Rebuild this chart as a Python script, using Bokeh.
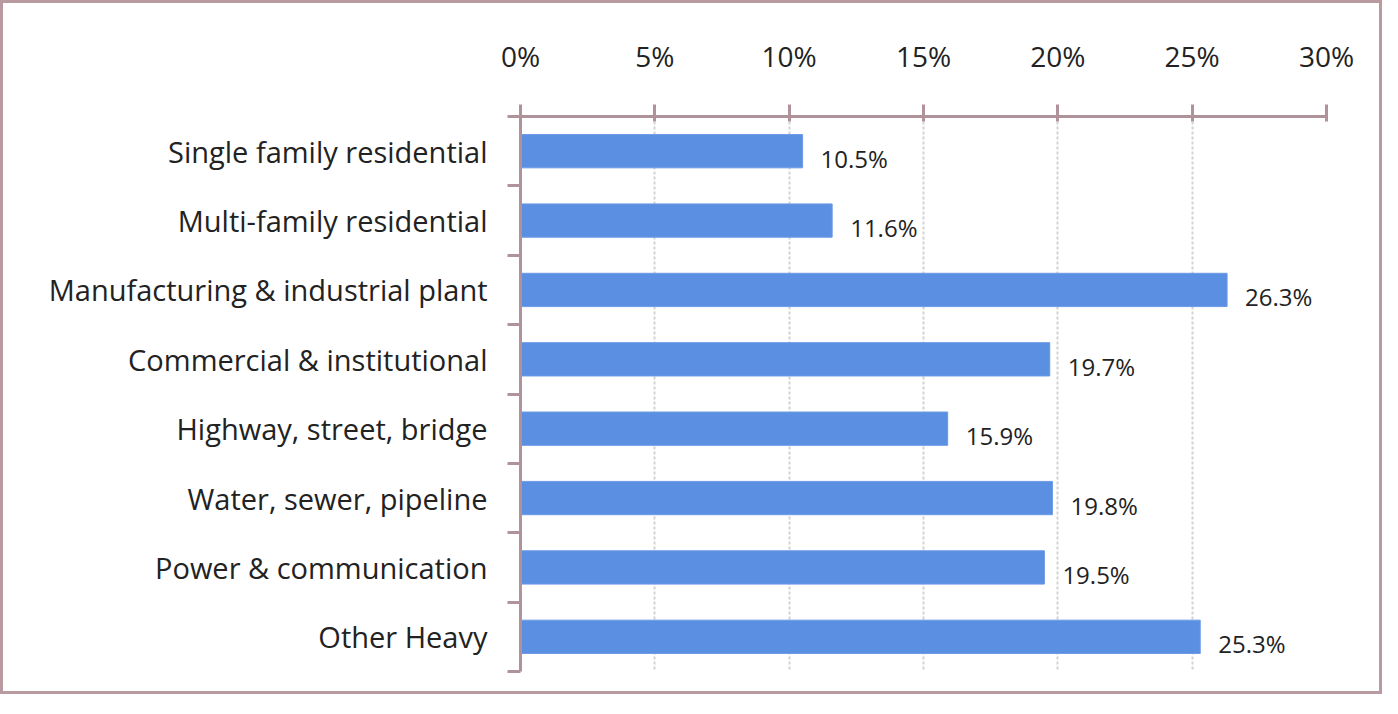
from bokeh.plotting import figure
from bokeh.models import Range1d, FixedTicker, ColumnDataSource
from bokeh.core.properties import value
from bokeh.embed import file_html
from bokeh.resources import INLINE

categories = ["Single family residential", "Multi-family residential",
              "Manufacturing & industrial plant", "Commercial & institutional",
              "Highway, street, bridge", "Water, sewer, pipeline",
              "Power & communication", "Other Heavy"]
values = [10.5, 11.6, 26.3, 19.7, 15.9, 19.8, 19.5, 25.3]
x_ticks = [0, 5, 10, 15, 20, 25, 30]
x_tick_labels = ["0%", "5%", "10%", "15%", "20%", "25%", "30%"]

FONT = "Open Sans"
AXIS_COLOR = "#b0939a"

idx = list(range(len(categories)))
src = ColumnDataSource(dict(y=idx, v=values, lab=[f"{v}%" for v in values]))

p = figure(width=1382, height=694, output_backend="svg", toolbar_location=None,
           x_range=Range1d(0, 30), y_range=Range1d(len(categories) - 0.5, -0.5),
           x_axis_location="above",
           min_border_left=517, min_border_right=59, min_border_top=113, min_border_bottom=26)
p.styles = {"border": "3px solid #b89aa0", "box-sizing": "border-box"}
p.outline_line_color = None

p.hbar(y="y", left=0, right="v", height=0.48, source=src,
       fill_color="#5b8fe2", line_color="#6b9ae6", line_width=1)
p.text(x="v", y="y", text="lab", source=src, x_offset=18, y_offset=7,
       text_baseline="middle", text_align="left",
       text_font=value(FONT), text_font_size="24px", text_color="#222222")

xa = p.xaxis[0]
xa.ticker = FixedTicker(ticks=x_ticks)
xa.major_label_overrides = {t: l for t, l in zip(x_ticks, x_tick_labels)}
xa.axis_line_color = AXIS_COLOR
xa.axis_line_width = 3
xa.major_tick_line_color = AXIS_COLOR
xa.major_tick_line_width = 3
xa.major_tick_out = 12
xa.major_tick_in = 5
xa.minor_tick_line_color = None
xa.major_label_standoff = 30
xa.major_label_text_font = FONT
xa.major_label_text_font_size = "28px"
xa.major_label_text_color = "#222222"

ya = p.yaxis[0]
ya.ticker = FixedTicker(ticks=idx, minor_ticks=[i - 0.5 for i in range(len(categories) + 1)])
ya.major_label_overrides = {i: c for i, c in zip(idx, categories)}
ya.axis_line_color = AXIS_COLOR
ya.axis_line_width = 3
ya.major_tick_line_color = None
ya.minor_tick_line_color = AXIS_COLOR
ya.minor_tick_line_width = 3
ya.minor_tick_out = 13
ya.minor_tick_in = 0
ya.major_label_standoff = 20
ya.major_label_text_font = FONT
ya.major_label_text_font_size = "29px"
ya.major_label_text_color = "#222222"

p.xgrid.ticker = FixedTicker(ticks=x_ticks)
p.xgrid.grid_line_color = "#d2d2d2"
p.xgrid.grid_line_width = 2
p.xgrid.grid_line_dash = "3 2"
p.ygrid.grid_line_color = None

open("out.html", "w").write(file_html(p, INLINE))
